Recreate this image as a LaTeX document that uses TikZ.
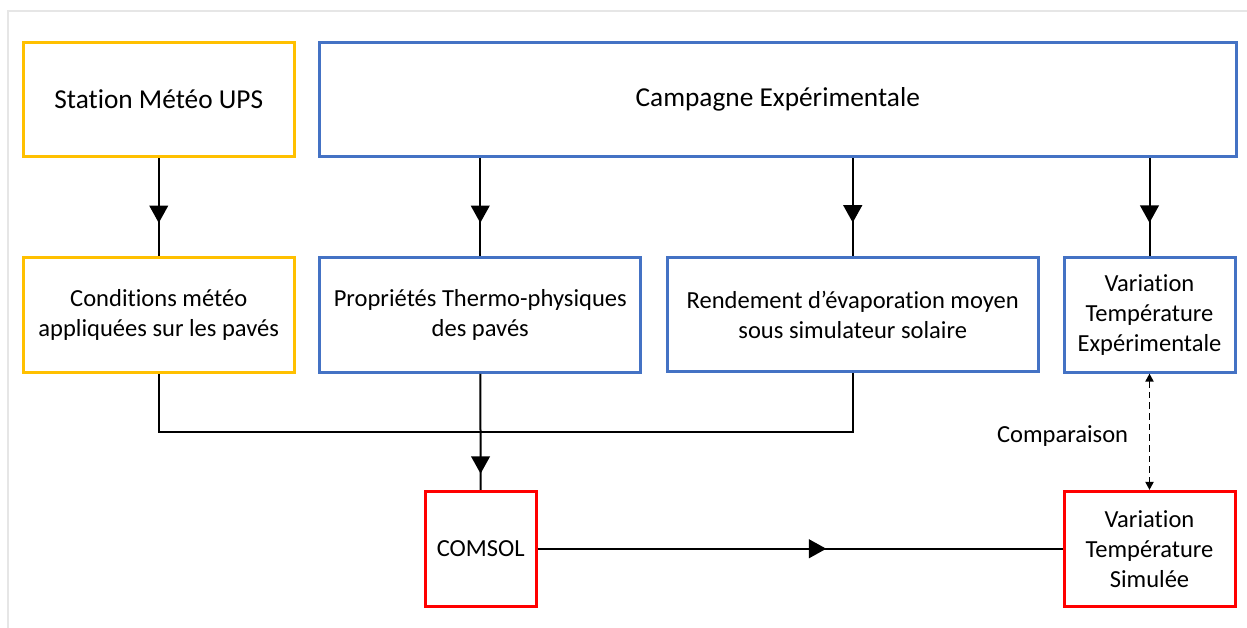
\documentclass[tikz,border=0pt]{standalone}
\usepackage{fontspec}
\setmainfont{Carlito}[Ligatures=NoCommon]
\usetikzlibrary{arrows.meta,decorations.markings}
\definecolor{cyel}{HTML}{FFC000}
\definecolor{cblue}{HTML}{4472C4}
\definecolor{cred}{HTML}{FF0000}
\definecolor{cframe}{HTML}{E6E6E6}
\tikzset{
  box/.style={draw, line width=2.25pt, inner sep=0pt, align=center,
    font=\fontsize{18.4pt}{22.5pt}\selectfont, minimum height=86pt, fill=white},
  bigtext/.style={font=\fontsize{20.5pt}{24pt}\selectfont},
  ybox/.style={box, draw=cyel},
  bbox/.style={box, draw=cblue},
  rbox/.style={box, draw=cred},
  conn/.style={draw=black, line width=1.5pt},
  midarr/.style={postaction={decorate}, decoration={markings,
    mark=at position #1 with {\arrow{Triangle[length=13pt,width=14pt]}}}},
  cmpline/.style={draw=black, line width=1.4pt, dash pattern=on 5pt off 3pt,
    {Triangle[length=6pt,width=6pt]}-{Triangle[length=6pt,width=6pt]}},
  lbl/.style={font=\fontsize{18.4pt}{22.5pt}\selectfont}
}
\begin{document}
\begin{tikzpicture}[x=0.75pt,y=-0.75pt]
\useasboundingbox (0,0) rectangle (1247,628);
\fill[white] (0,0) rectangle (1247,628);
\draw[cframe, line width=1.3pt] (8,628) -- (8,11) -- (1247,11);

\node[ybox, bigtext, minimum width=202.9pt] (station) at (158.75,99.5) {Station Météo UPS};
\node[bbox, bigtext, minimum width=687.4pt] (camp) at (777.75,99.5) {Campagne Expérimentale};

\node[ybox, minimum width=202.9pt] (cond) at (158.75,315) {Conditions météo\\appliquées sur les pavés};
\node[bbox, minimum width=241.1pt] (prop) at (480.25,315) {Propriétés Thermo-physiques\\des pavés};
\node[bbox, minimum width=277.9pt] (rend) at (852.75,314.5) {Rendement d’évaporation moyen\\sous simulateur solaire};
\node[bbox, minimum width=128.25pt] (varexp) at (1149.5,314.75) {Variation\\Température\\Expérimentale};

\node[rbox, minimum width=82.9pt] (comsol) at (480.75,548.75) {COMSOL};
\node[rbox, minimum width=128.25pt] (varsim) at (1149.5,548.75) {Variation\\Température\\Simulée};

\coordinate (j) at (480.25,432);

\draw[conn, midarr=0.66] (station) -- (cond);
\draw[conn, midarr=0.66] (camp.south -| prop.north) -- (prop.north);
\draw[conn, midarr=0.66] (camp.south -| rend.north) -- (rend.north);
\draw[conn, midarr=0.66] (camp.south -| varexp.north) -- (varexp.north);

\draw[conn] (cond) |- (j) -| (rend);
\draw[conn, midarr=0.86] (prop) -- (comsol);
\draw[conn, midarr=0.55] (comsol) -- (varsim);

\draw[cmpline] (varexp) -- (varsim)
  node[midway, left, lbl, xshift=-12pt, yshift=-3pt] {Comparaison};
\end{tikzpicture}
\end{document}
